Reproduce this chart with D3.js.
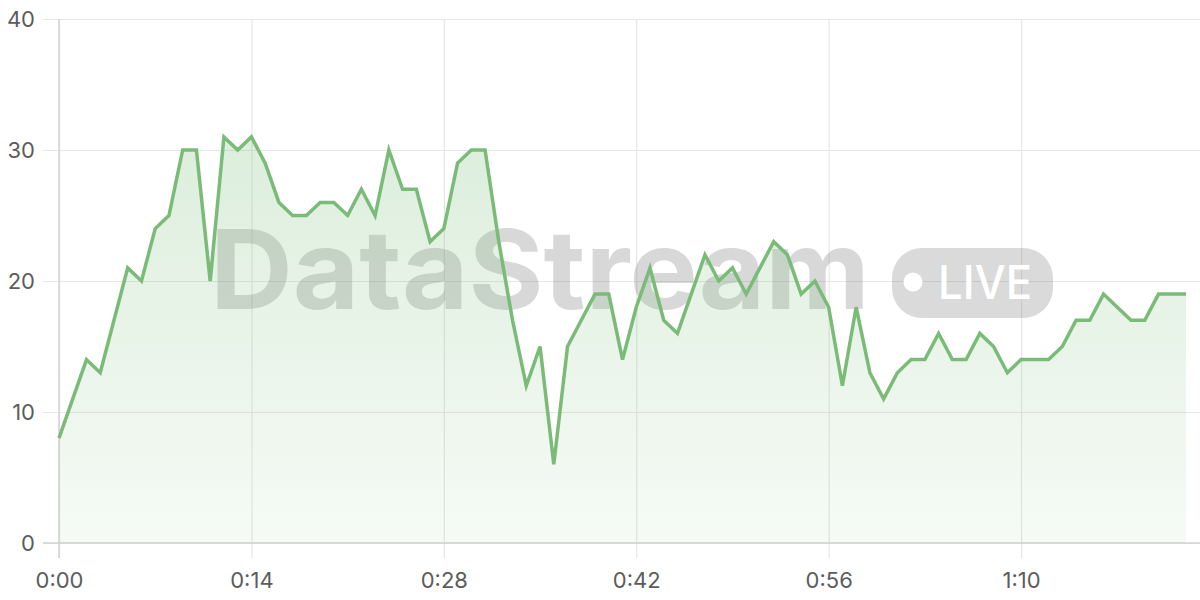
<!DOCTYPE html>
<html>
<head>
<meta charset="utf-8">
<script src="https://cdn.jsdelivr.net/npm/d3@7"></script>
<style>
  html, body { margin: 0; padding: 0; background: #fff; }
  svg { display: block; }
</style>
</head>
<body>
<svg id="chart" width="1200" height="600"></svg>
<script>
// Data: one value per second, 0:00 .. 1:22
const seconds = d3.range(0, 83);
const values = [
  8, 11, 14, 13, 17, 21, 20, 24, 25, 30,
  30, 20, 31, 30, 31, 29, 26, 25, 25, 26,
  26, 25, 27, 25, 30, 27, 27, 23, 24, 29,
  30, 30, 23, 17, 12, 15, 6, 15, 17, 19,
  19, 14, 18, 21, 17, 16, 19, 22, 20, 21,
  19, 21, 23, 22, 19, 20, 18, 12, 18, 13,
  11, 13, 14, 14, 16, 14, 14, 16, 15, 13,
  14, 14, 14, 15, 17, 17, 19, 18, 17, 17,
  19, 19, 19
];
const xTicks = [0, 14, 28, 42, 56, 70];
const yTicks = [0, 10, 20, 30, 40];
const watermarkText = "DataStream";
const badgeText = "LIVE";

(function () {
const data = seconds.map((s, i) => ({ s, v: values[i] }));

const svg = d3.select("#chart");
const mL = 59, mR = 1186, mT = 19, mB = 543;

const x = d3.scaleLinear().domain([0, 82]).range([mL, mR]);
const y = d3.scaleLinear().domain([0, 40]).range([mB, mT]);

const fmt = s => `${Math.floor(s / 60)}:${String(s % 60).padStart(2, "0")}`;
const font = "Inter, 'Noto Sans', 'Liberation Sans', sans-serif";

// gradient
const defs = svg.append("defs");
const grad = defs.append("linearGradient").attr("id", "areaGrad")
  .attr("gradientUnits", "userSpaceOnUse")
  .attr("x1", 0).attr("x2", 0).attr("y1", mT).attr("y2", mB);
grad.append("stop").attr("offset", "0%").attr("stop-color", "#7cbf7c").attr("stop-opacity", 0.32);
grad.append("stop").attr("offset", "100%").attr("stop-color", "#7cbf7c").attr("stop-opacity", 0.07);

// grid: horizontal
const gy = svg.append("g")
  .attr("transform", `translate(${mL},0)`)
  .call(d3.axisLeft(y).tickValues(yTicks).tickSize(-(1200 - mL)).tickSizeOuter(0).tickPadding(24).tickFormat(d3.format("d")));
gy.select(".domain").remove();
gy.selectAll(".tick line").attr("stroke", "#e6e6e6").attr("stroke-width", 1.2).attr("x1", -16).attr("x2", 1200 - mL);
gy.selectAll(".tick text").attr("fill", "#5c5c5c").attr("font-size", 22).attr("font-family", font).attr("x", -24);

// grid: vertical
const gx = svg.append("g")
  .attr("transform", `translate(0,${mB})`)
  .call(d3.axisBottom(x).tickValues(xTicks).tickSize(-(mB - mT)).tickSizeOuter(0).tickPadding(24).tickFormat(fmt));
gx.select(".domain").remove();
gx.selectAll(".tick line").attr("stroke", "#e6e6e6").attr("stroke-width", 1.2).attr("y1", 15).attr("y2", -(mB - mT));
gx.selectAll(".tick text").attr("fill", "#5c5c5c").attr("font-size", 22).attr("font-family", font).attr("dy", 0).attr("y", 45);

// axis lines
svg.append("line").attr("x1", mL).attr("x2", mL).attr("y1", mT).attr("y2", mB + 15)
  .attr("stroke", "#d2d2d2").attr("stroke-width", 1.5);
svg.append("line").attr("x1", mL - 16).attr("x2", 1200).attr("y1", mB).attr("y2", mB)
  .attr("stroke", "#d2d2d2").attr("stroke-width", 1.5);

// watermark
const wm = svg.append("g");
wm.append("text")
  .attr("x", 210).attr("y", 309)
  .attr("font-family", "Inter, 'Liberation Sans', sans-serif")
  .attr("font-weight", 700)
  .attr("font-size", 110)
  .attr("textLength", 660)
  .attr("lengthAdjust", "spacingAndGlyphs")
  .attr("fill", "rgba(120,120,120,0.29)")
  .text(watermarkText);
wm.append("rect")
  .attr("x", 892).attr("y", 248).attr("width", 161).attr("height", 70).attr("rx", 30)
  .attr("fill", "rgba(120,120,120,0.27)");
wm.append("circle").attr("cx", 913).attr("cy", 282).attr("r", 9.5).attr("fill", "#fff");
wm.append("text")
  .attr("x", 938).attr("y", 299)
  .attr("font-family", "Inter, 'Liberation Sans', sans-serif")
  .attr("font-weight", 500)
  .attr("font-size", 47)
  .attr("textLength", 94)
  .attr("lengthAdjust", "spacingAndGlyphs")
  .attr("fill", "#fff")
  .text(badgeText);

// area
const area = d3.area().x(d => x(d.s)).y0(y(0)).y1(d => y(d.v));
svg.append("path").datum(data).attr("d", area).attr("fill", "url(#areaGrad)");

// line
const line = d3.line().x(d => x(d.s)).y(d => y(d.v));
svg.append("path").datum(data).attr("d", line)
  .attr("fill", "none").attr("stroke", "#7abb78").attr("stroke-width", 3.5)
  .attr("stroke-linejoin", "miter").attr("stroke-linecap", "butt");
})();
</script>
</body>
</html>
